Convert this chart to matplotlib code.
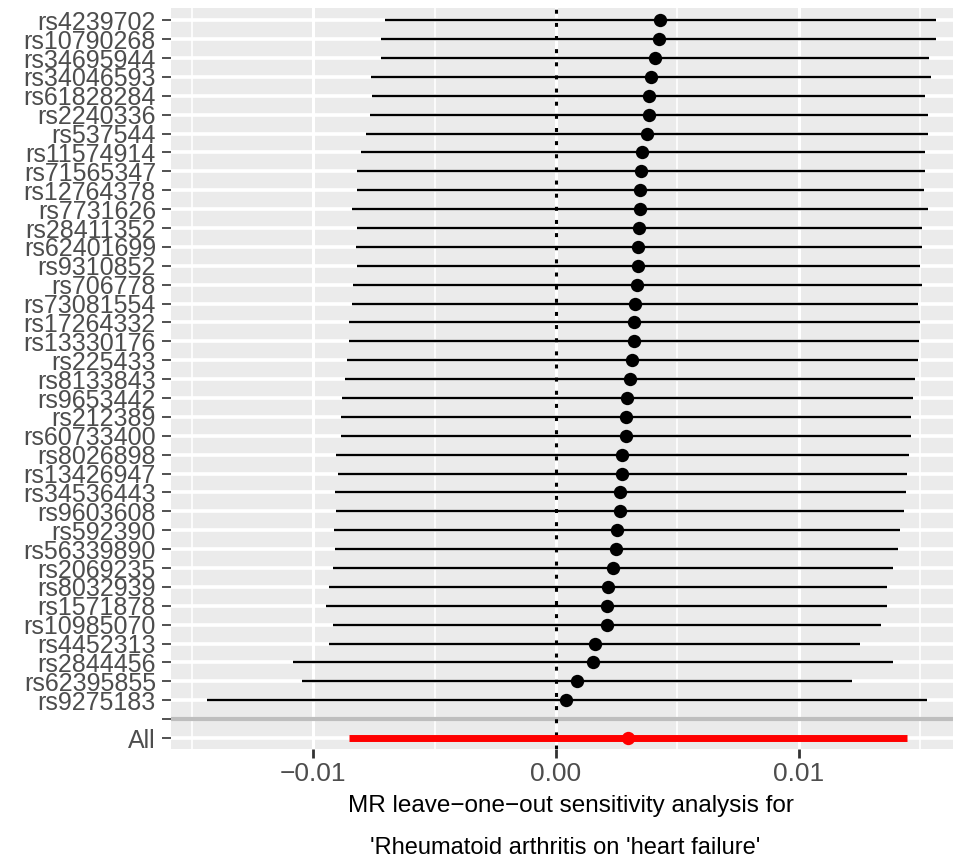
import matplotlib
matplotlib.use("Agg")
import matplotlib.pyplot as plt

plt.rcParams["font.family"] = ["Liberation Sans", "DejaVu Sans"]

# leave-one-out results, top row first
snps = [
    "rs4239702", "rs10790268", "rs34695944", "rs34046593", "rs61828284",
    "rs2240336", "rs537544", "rs11574914", "rs71565347", "rs12764378",
    "rs7731626", "rs28411352", "rs62401699", "rs9310852", "rs706778",
    "rs73081554", "rs17264332", "rs13330176", "rs225433", "rs8133843",
    "rs9653442", "rs212389", "rs60733400", "rs8026898", "rs13426947",
    "rs34536443", "rs9603608", "rs592390", "rs56339890", "rs2069235",
    "rs8032939", "rs1571878", "rs10985070", "rs4452313", "rs2844456",
    "rs62395855", "rs9275183",
]
b = [
    4.28, 4.24, 4.07, 3.91, 3.83, 3.81, 3.74, 3.54, 3.50, 3.46,
    3.45, 3.42, 3.37, 3.36, 3.33, 3.25, 3.21, 3.20, 3.13, 3.05,
    2.92, 2.88, 2.87, 2.72, 2.71, 2.64, 2.62, 2.51, 2.47, 2.35,
    2.14, 2.10, 2.09, 1.60, 1.52, 0.86, 0.41,
]
lo = [
    -7.04, -7.20, -7.20, -7.61, -7.57, -7.65, -7.82, -8.02, -8.19, -8.19,
    -8.40, -8.19, -8.23, -8.19, -8.35, -8.40, -8.52, -8.52, -8.60, -8.68,
    -8.81, -8.85, -8.85, -9.05, -8.97, -9.09, -9.05, -9.14, -9.09, -9.18,
    -9.34, -9.47, -9.18, -9.34, -10.82, -10.45, -14.36,
]
hi = [
    15.64, 15.64, 15.35, 15.43, 15.19, 15.31, 15.31, 15.19, 15.19, 15.14,
    15.31, 15.06, 15.06, 14.98, 15.06, 14.90, 14.98, 14.94, 14.90, 14.77,
    14.69, 14.61, 14.61, 14.53, 14.44, 14.40, 14.32, 14.16, 14.07, 13.87,
    13.62, 13.62, 13.37, 12.51, 13.87, 12.18, 15.27,
]
all_b, all_lo, all_hi = 2.96, -8.52, 14.44

# values above are in thousandths
b = [v / 1000 for v in b]
lo = [v / 1000 for v in lo]
hi = [v / 1000 for v in hi]
all_b, all_lo, all_hi = all_b / 1000, all_lo / 1000, all_hi / 1000

n = len(snps)
ypos = [n + 1 - i for i in range(n)]  # top row highest, gap at 1, All at 0

fig = plt.figure(figsize=(9.54, 8.61), dpi=100)
ax = fig.add_axes([171 / 954, 112 / 861, 783 / 954, 741 / 861])
ax.set_facecolor("#EBEBEB")
for s in ax.spines.values():
    s.set_visible(False)

ax.set_xlim(-0.015844, 0.016379)
ax.set_ylim(-0.58, n + 1.65)

# grid
for x in [-0.015, -0.005, 0.005, 0.015]:
    ax.axvline(x, color="white", lw=1.2, zorder=0.5)
for x in [-0.01, 0.0, 0.01]:
    ax.axvline(x, color="white", lw=2.2, zorder=0.6)
for y in list(range(n + 2)):
    ax.axhline(y, color="white", lw=2.6, zorder=0.7)

ax.axhline(1, color="#BEBEBE", lw=3.0, zorder=1)
ax.axvline(0, color="black", lw=2.2, ls=(0, (1.3, 3.0)), zorder=1.5)

ax.hlines(ypos, lo, hi, color="black", lw=1.7, zorder=2)
ax.plot(b, ypos, "o", color="black", ms=9.6, mew=0, zorder=3)

ax.hlines(0, all_lo, all_hi, color="#FF0000", lw=5.0, zorder=2)
ax.plot([all_b], [0], "o", color="#FF0000", ms=9.6, mew=0, zorder=3)

ax.set_yticks([0, 1] + ypos)
ax.set_yticklabels(["All", ""] + snps)
ax.set_xticks([-0.01, 0.0, 0.01])
ax.set_xticklabels(["\u22120.01", "0.00", "0.01"])

ax.tick_params(axis="y", length=6.5, width=1.2, color="#333333",
               labelcolor="#4D4D4D", labelsize=18, pad=4.3)
ax.tick_params(axis="x", length=6.5, width=2.0, color="#333333",
               labelcolor="#4D4D4D", labelsize=19, pad=3)

fig.text(571 / 954, 1 - 806 / 861,
         "MR leave\u2212one\u2212out sensitivity analysis for",
         ha="center", va="center", fontsize=17.5, color="black")
fig.text(565 / 954, 1 - 848 / 861,
         "'Rheumatoid arthritis on 'heart failure'",
         ha="center", va="center", fontsize=17, color="black")

fig.savefig("out.png", dpi=100)
